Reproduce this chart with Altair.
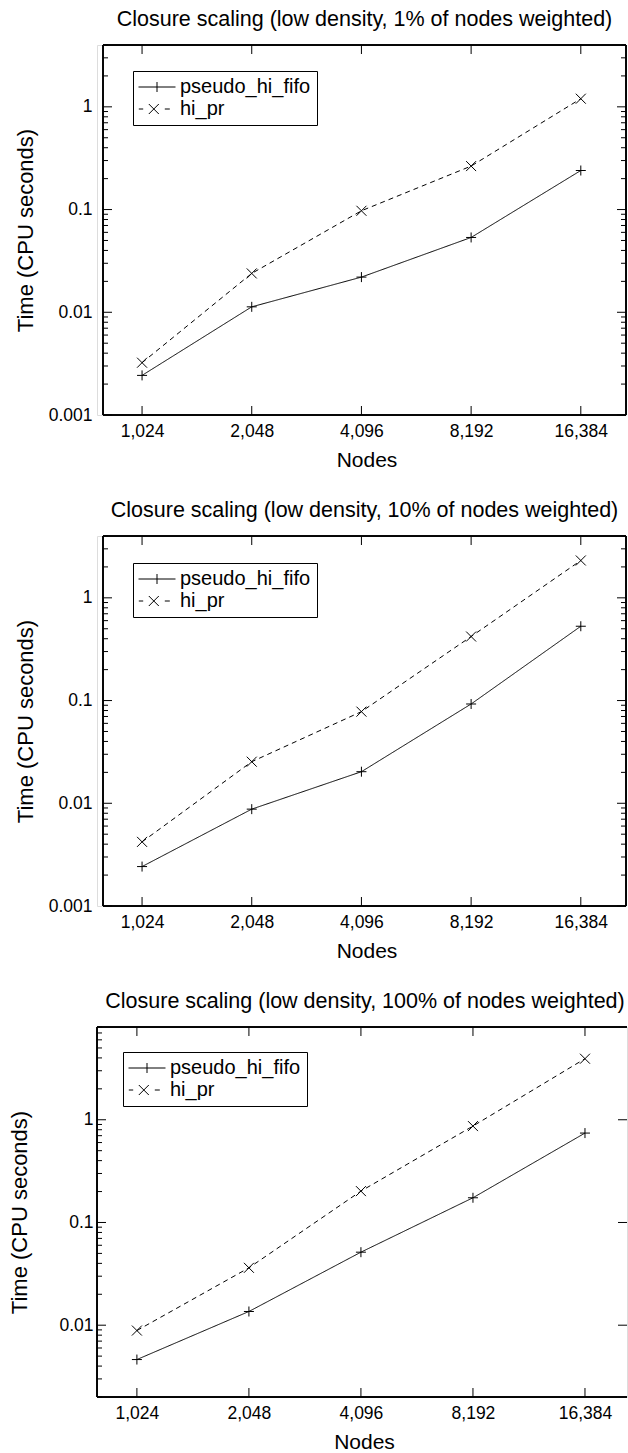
import altair as alt
import pandas as pd

FONT = "Liberation Sans"

nodes = [1024, 2048, 4096, 8192, 16384]
series_names = ["pseudo_hi_fifo", "hi_pr"]

titles = [
    "Closure scaling (low density, 1% of nodes weighted)",
    "Closure scaling (low density, 10% of nodes weighted)",
    "Closure scaling (low density, 100% of nodes weighted)",
]

# values (CPU seconds)
p1_pseudo = [0.00243, 0.0113, 0.022, 0.0535, 0.24]
p1_hipr = [0.00323, 0.0239, 0.0973, 0.265, 1.2]
p2_pseudo = [0.00242, 0.00877, 0.0203, 0.0926, 0.529]
p2_hipr = [0.00421, 0.0254, 0.078, 0.42, 2.31]
p3_pseudo = [0.00463, 0.0136, 0.0514, 0.174, 0.742]
p3_hipr = [0.00887, 0.0362, 0.202, 0.868, 3.93]

# panels 1-2: frame starts 6 px right of the shared origin
x_domain_12 = [770.3, 21800]
x_domain_3 = [800, 21250]
y_domain_12 = [0.001, 4]
y_domain_3 = [0.002, 8]
y_major_12 = [0.001, 0.01, 0.1, 1]
y_major_3 = [0.01, 0.1, 1]
y_minor_12 = [0.002, 0.003, 0.004, 0.005, 0.006, 0.007, 0.008, 0.009,
              0.02, 0.03, 0.04, 0.05, 0.06, 0.07, 0.08, 0.09,
              0.2, 0.3, 0.4, 0.5, 0.6, 0.7, 0.8, 0.9,
              2, 3, 4]
y_minor_3 = [0.002, 0.003, 0.004, 0.005, 0.006, 0.007, 0.008, 0.009,
             0.02, 0.03, 0.04, 0.05, 0.06, 0.07, 0.08, 0.09,
             0.2, 0.3, 0.4, 0.5, 0.6, 0.7, 0.8, 0.9,
             2, 3, 4, 5, 6, 7, 8]

# marker shapes (unit = 5 px at size 100)
PLUS = "M-1,0L1,0M0,-1L0,1"
CROSS = "M-1,-1L1,1M-1,1L1,-1"
LEG_SOLID = "M-3.7,0L3.7,0M0,-1L0,1"
LEG_DASH = "M-3.64,0L-2.76,0M-1.64,-1L0.36,1M-1.64,1L0.36,-1M1.56,0L2.56,0"

MAJ = 9
MIN = 5


def panel(title, pseudo, hipr, xdom, ydom, ymaj, ymin, W, H, ox,
          right_frame, right_minor, label_pad, title_pad, leg_x, leg_y):
    df = pd.DataFrame({
        "nodes": nodes * 2,
        "time": pseudo + hipr,
        "series": [s for s in series_names for _ in nodes],
    })
    xs = alt.Scale(type="log", base=2, domain=xdom, nice=False)
    ys = alt.Scale(type="log", domain=ydom, nice=False)
    x_ax = alt.X("nodes:Q", scale=xs, axis=alt.Axis(
        values=nodes, format=",d", title="Nodes", ticks=False, domain=False,
        grid=False, labelFont=FONT, labelFontSize=17.5, labelColor="black",
        labelPadding=7, labelFlush=False, labelOverlap=False,
        titleFont=FONT, titleFontSize=21, titleFontWeight="normal",
        titleColor="black", titlePadding=10, titleX=ox + (W - ox) / 2 + 2))
    y_ax = alt.Y("time:Q", scale=ys, axis=alt.Axis(
        values=ymaj, format="~g", title="Time (CPU seconds)", ticks=False,
        domain=False, grid=False, labelFont=FONT, labelFontSize=17.5,
        labelColor="black", labelPadding=label_pad, labelFlush=False,
        labelOverlap=False, titleFont=FONT, titleFontSize=22,
        titleFontWeight="normal", titleColor="black", titlePadding=title_pad))

    lines = alt.Chart(df).mark_line(color="black", strokeWidth=1).encode(
        x=x_ax, y=y_ax,
        strokeDash=alt.StrokeDash("series:N", scale=alt.Scale(
            domain=series_names, range=[[1, 0], [5, 4]]), legend=None))
    pts = alt.Chart(df).mark_point(filled=False, color="black", strokeWidth=1,
                                   size=100, opacity=1).encode(
        x=x_ax, y=y_ax,
        shape=alt.Shape("series:N", scale=alt.Scale(
            domain=series_names, range=[PLUS, CROSS]), legend=None))
    leg = alt.Chart(df).mark_point(filled=False, color="black", size=100,
                                   opacity=0).encode(
        x=x_ax, y=y_ax,
        shape=alt.Shape("series:N", scale=alt.Scale(
            domain=series_names, range=[LEG_SOLID, LEG_DASH]),
            legend=alt.Legend(
                title=None, orient="none", legendX=leg_x, legendY=leg_y,
                direction="vertical", strokeColor="black", fillColor="white",
                padding=6, symbolSize=100, symbolStrokeColor="black",
                symbolFillColor="transparent", symbolStrokeWidth=1,
                symbolOpacity=1, symbolOffset=8, labelOffset=13,
                labelFont=FONT, labelFontSize=20, labelColor="black",
                rowPadding=2, labelLimit=0)))

    rule = dict(color="black", strokeWidth=1)
    ymaj_df = pd.DataFrame({"time": ymaj})
    ymin_df = pd.DataFrame({"time": ymin})
    x_df = pd.DataFrame({"nodes": nodes})
    layers = [lines, pts, leg]
    layers.append(alt.Chart(ymaj_df).mark_rule(**rule).encode(
        y=y_ax, x=alt.value(ox), x2=alt.value(ox + MAJ)))
    layers.append(alt.Chart(ymin_df).mark_rule(**rule).encode(
        y=y_ax, x=alt.value(ox), x2=alt.value(ox + MIN)))
    layers.append(alt.Chart(ymaj_df).mark_rule(**rule).encode(
        y=y_ax, x=alt.value(W - MAJ), x2=alt.value(W)))
    if right_minor:
        layers.append(alt.Chart(ymin_df).mark_rule(**rule).encode(
            y=y_ax, x=alt.value(W - MIN), x2=alt.value(W)))
    layers.append(alt.Chart(x_df).mark_rule(**rule).encode(
        x=x_ax, y=alt.value(0), y2=alt.value(MAJ)))
    layers.append(alt.Chart(x_df).mark_rule(**rule).encode(
        x=x_ax, y=alt.value(H - MAJ), y2=alt.value(H)))
    # frame
    layers.append(alt.Chart(x_df).mark_rule(**rule).encode(
        x=alt.value(ox), x2=alt.value(W), y=alt.value(0)))
    layers.append(alt.Chart(x_df).mark_rule(**rule).encode(
        x=alt.value(ox), x2=alt.value(W), y=alt.value(H)))
    layers.append(alt.Chart(x_df).mark_rule(**rule).encode(
        x=alt.value(ox), y=alt.value(0), y2=alt.value(H)))
    if right_frame:
        layers.append(alt.Chart(x_df).mark_rule(**rule).encode(
            x=alt.value(W), y=alt.value(0), y2=alt.value(H)))

    return alt.layer(*layers).resolve_scale(shape="independent").properties(
        width=W, height=H,
        title=alt.Title(title, font=FONT, fontSize=21.5, fontWeight="normal",
                        color="black", anchor="middle", frame="group",
                        baseline="alphabetic", offset=-3, dx=3))


c1 = panel(titles[0], p1_pseudo, p1_hipr, x_domain_12, y_domain_12,
           y_major_12, y_minor_12, 529, 370, 6, True, True, 5, 10.6, 36, 26)
c2 = panel(titles[1], p2_pseudo, p2_hipr, x_domain_12, y_domain_12,
           y_major_12, y_minor_12, 529, 370, 6, True, True, 5, 10.6, 36, 27)
c3 = panel(titles[2], p3_pseudo, p3_hipr, x_domain_3, y_domain_3,
           y_major_3, y_minor_3, 530, 370, 0, False, False, 4, 27, 26, 25)

chart = alt.vconcat(c1, c2, c3, spacing=28).properties(
    padding={"left": 8, "top": 8, "right": 0, "bottom": 0}
).configure_view(stroke=None).configure(background="white")

chart.save("out.html", embed_options={"renderer": "svg", "actions": False})
